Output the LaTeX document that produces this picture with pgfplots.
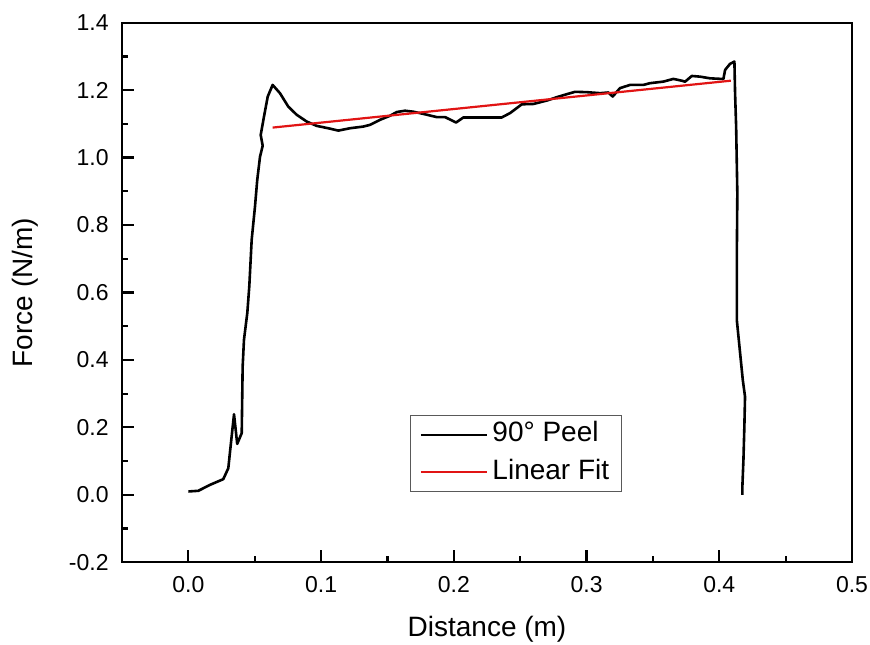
\documentclass[border=0pt]{standalone}
\usepackage{pgfplots}
\pgfplotsset{compat=1.18}
\usepackage{fontspec}
\setmainfont{Liberation Sans}
\definecolor{fitred}{RGB}{225,20,20}
\begin{document}
\begin{tikzpicture}
\begin{axis}[
  name=ax,
  scale only axis,
  width=365pt, height=269.8pt,
  xmin=-0.05, xmax=0.5, ymin=-0.2, ymax=1.4,
  xtick={0,0.1,0.2,0.3,0.4,0.5},
  ytick={-0.2,0,0.2,0.4,0.6,0.8,1.0,1.2,1.4},
  minor x tick num=1, minor y tick num=1,
  xtick pos=left, ytick pos=left,
  tick align=inside,
  major tick length=6pt, minor tick length=3pt,
  axis line style={line width=1.1pt},
  every tick/.style={line width=1.1pt, black},
  tick label style={font=\fontsize{11.5}{13}\selectfont},
  yticklabel style={inner sep=0pt, xshift=-6.5pt},
  xticklabel style={inner sep=0pt, yshift=-7pt},
  /pgf/number format/assume math mode=true,
  /pgf/number format/fixed, /pgf/number format/fixed zerofill, /pgf/number format/precision=1,
  xlabel={Distance (m)}, ylabel={Force (N/m)},
  label style={font=\fontsize{14}{16}\selectfont},
  xlabel style={at={([yshift=-37.35pt]rel axis cs:0.5,0)}, anchor=base},
  ylabel style={at={([xshift=-44.5pt]rel axis cs:0,0.5)}, anchor=base},
  legend style={at={(0.3945,0.273)}, anchor=north west, draw=black!65, line width=0.6pt,
    font=\fontsize{14}{16}\selectfont, inner xsep=4.5pt, inner ysep=0.3pt, row sep=0pt,
    nodes={inner xsep=1.85pt, inner ysep=2.85pt, text height=10pt, text depth=3pt}},
  legend cell align=left,
  legend image code/.code={\draw[#1] (0cm,0cm) -- (1.17cm,0cm);},
]
\addplot[black, line width=1.3pt, line join=round] coordinates {
(0.000,0.010) (0.0075,0.012) (0.0163,0.0296) (0.0263,0.0465) (0.0301,0.079) (0.0313,0.1245)
(0.0344,0.239) (0.0368,0.151) (0.0402,0.183) (0.0409,0.380) (0.0419,0.460) (0.0444,0.539)
(0.0459,0.618) (0.0477,0.756) (0.0502,0.855) (0.0519,0.934) (0.054,1.003) (0.056,1.035)
(0.0545,1.067) (0.057,1.122) (0.0598,1.181) (0.0635,1.2155) (0.069,1.191) (0.0753,1.151)
(0.0816,1.127) (0.0891,1.107) (0.0967,1.094) (0.1054,1.087) (0.113,1.080) (0.1218,1.087)
(0.1318,1.092) (0.1368,1.097) (0.1444,1.112) (0.1519,1.124) (0.157,1.135) (0.1632,1.139)
(0.1695,1.136) (0.177,1.1296) (0.1871,1.120) (0.1934,1.120) (0.2017,1.104) (0.2072,1.119)
(0.2197,1.119) (0.2361,1.119) (0.2424,1.132) (0.2512,1.158) (0.2599,1.159) (0.270,1.169)
(0.2775,1.179) (0.2851,1.188) (0.2913,1.195) (0.3002,1.194) (0.3102,1.191) (0.3164,1.193)
(0.3197,1.181) (0.3252,1.206) (0.3328,1.2155) (0.3428,1.2155) (0.3478,1.2206) (0.3579,1.2253)
(0.3654,1.2333) (0.3717,1.228) (0.3742,1.225) (0.3793,1.242) (0.3855,1.240) (0.3931,1.235)
(0.4031,1.233) (0.4044,1.260) (0.4081,1.278) (0.4114,1.2846) (0.4119,1.191) (0.4127,1.092)
(0.4136,0.894) (0.4132,0.697) (0.4132,0.519) (0.4157,0.420) (0.4177,0.341) (0.4194,0.291)
(0.4189,0.2025) (0.4182,0.104) (0.4174,0.0246) (0.4174,0.000)
};
\addlegendentry{90° Peel}
\addplot[fitred, line width=1.1pt] coordinates {(0.0635,1.089) (0.4087,1.228)};
\addlegendentry{Linear Fit}
\end{axis}
\pgfresetboundingbox
\path (ax.south west) +(-61pt,-41.35pt);
\path (ax.north east) +(9pt,11.35pt);
\end{tikzpicture}
\end{document}
